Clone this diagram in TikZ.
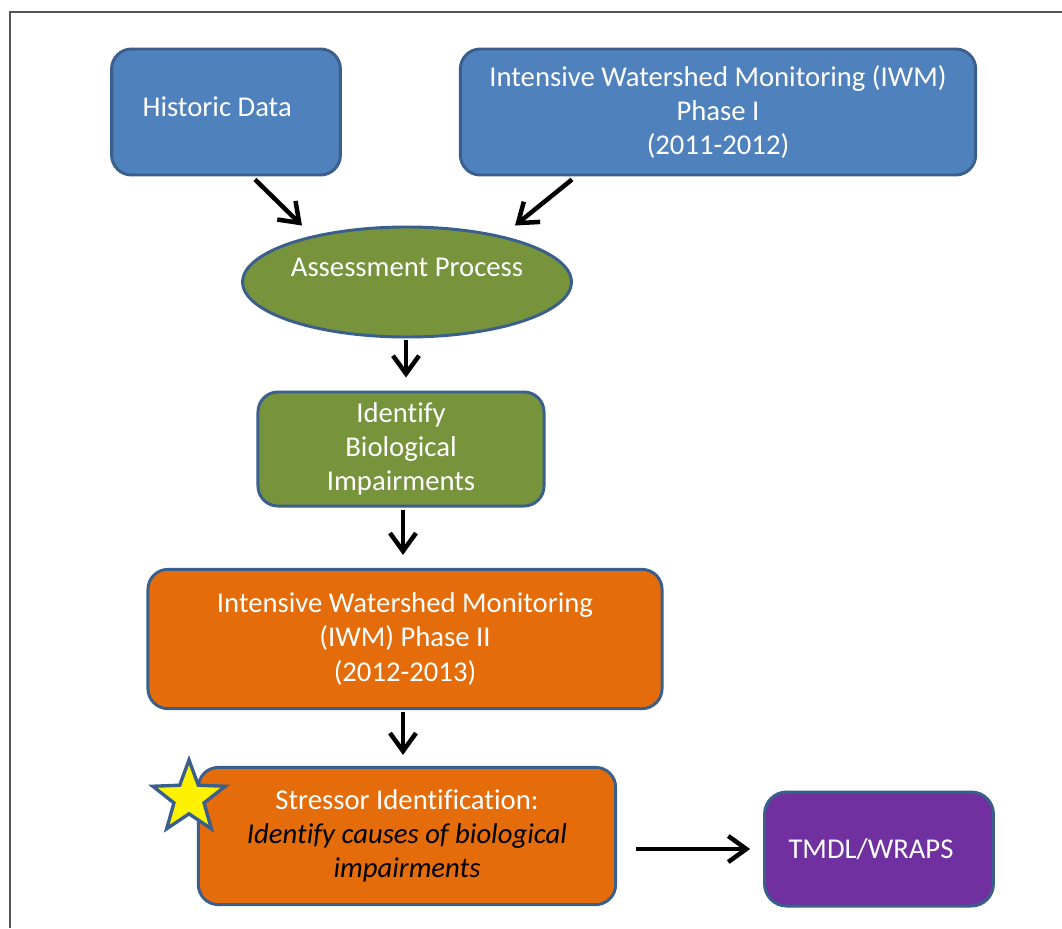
\documentclass[tikz,border=0pt]{standalone}
\usepackage{fontspec}
\setmainfont{Carlito}[Ligatures=NoCommon]
\usetikzlibrary{shapes.geometric,arrows.meta}
\definecolor{wsblue}{HTML}{4F81BD}
\definecolor{wsedge}{HTML}{3A5F8C}
\definecolor{wsgreen}{HTML}{77933C}
\definecolor{wsorange}{HTML}{E46C0A}
\definecolor{wspurple}{HTML}{7030A0}
\definecolor{wsframe}{HTML}{555555}

\begin{document}
\begin{tikzpicture}[x=0.025cm,y=-0.025cm,>={Straight Barb[length=0.45cm,width=0.65cm]},font=\fontsize{20.4}{24.4}\selectfont]
  \tikzstyle{block}=[draw=wsedge, line width=2.1pt, rounded corners=0.5cm, text=white, align=center, inner sep=2pt]
  \tikzstyle{datablock}=[block, fill=wsblue, minimum height=3.15cm]
  \tikzstyle{greenblock}=[block, fill=wsgreen]
  \tikzstyle{orangeblock}=[block, fill=wsorange]
  \tikzstyle{arrow}=[->, line width=3.2pt, draw=black]

  \path[use as bounding box] (0,0) rectangle (1062,928);
  \draw[wsframe, line width=1.1pt] (10,928) -- (10,12) -- (1062,12);

  \node[datablock, minimum width=5.72cm,
        label={[text=white, shift={(-0.22cm,0.12cm)}]center:Historic Data}] (hist) at (226,112) {};
  \node[datablock, minimum width=12.88cm] (iwmone) at (718,112) {Intensive Watershed Monitoring (IWM)\\Phase I\\(2011-2012)};

  \node[ellipse, draw=wsedge, line width=2.1pt, fill=wsgreen, inner sep=0pt, minimum width=8.22cm, minimum height=2.75cm,
        label={[text=white, yshift=0.37cm]center:Assessment Process}] (assess) at (407,282) {};

  \node[greenblock, minimum width=7.15cm, minimum height=2.85cm] (ident) at (401,449) {Identify\\Biological\\Impairments};
  \node[orangeblock, minimum width=12.85cm, minimum height=3.48cm] (iwmtwo) at (405,639) {Intensive Watershed Monitoring\\(IWM) Phase II\\(2012-2013)};
  \node[orangeblock, minimum width=10.43cm, minimum height=3.43cm] (stress) at (407,836)
    {Stressor Identification:\\\textcolor{black}{\itshape Identify causes of biological}\\\textcolor{black}{\itshape impairments}};
  \node[block, fill=wspurple, minimum width=5.72cm, minimum height=2.85cm, rounded corners=0.55cm,
        label={[text=white, xshift=-0.2cm]center:TMDL/WRAPS}] (tmdl) at (879,849) {};

  \node[star, star points=5, star point ratio=2.4, minimum size=1.9cm, inner sep=0pt, fill=yellow, draw=wsedge, line width=2.4pt] (mark) at (189,798) {};

  \draw[arrow] ([shift={(29,3)}]hist.south) -- ([shift={(-105,0)}]assess.north);
  \draw[arrow] ([shift={(-146,3)}]iwmone.south) -- ([shift={(108,0)}]assess.north);
  \draw[arrow] ([shift={(-1,2)}]assess.south) -- ([shift={(5,-13)}]ident.north);
  \draw[arrow] ([shift={(2,2)}]ident.south) -- ([shift={(-2,-13)}]iwmtwo.north);
  \draw[arrow] ([shift={(-2,2)}]iwmtwo.south) -- ([shift={(-4,-11)}]stress.north);
  \draw[arrow] ([shift={(19,13)}]stress.east) -- ([shift={(-13,0)}]tmdl.west);
\end{tikzpicture}
\end{document}
